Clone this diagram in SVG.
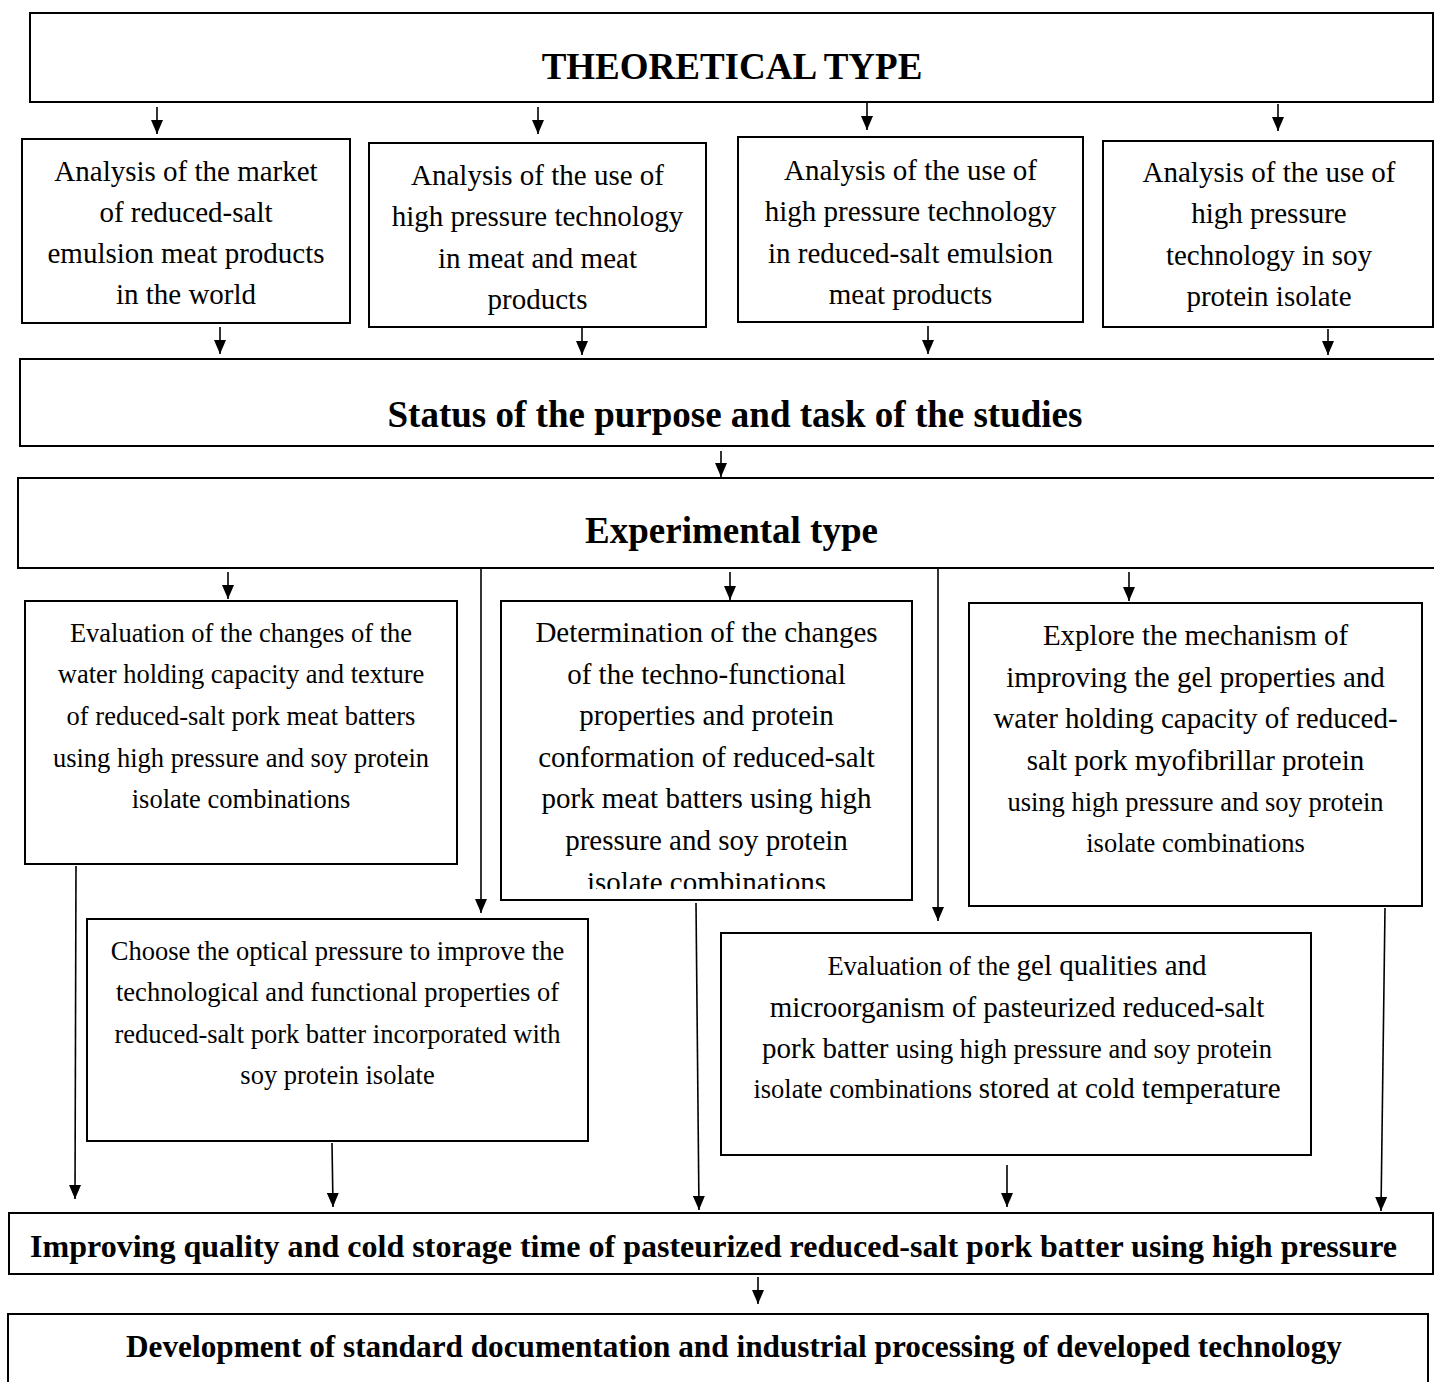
<svg xmlns="http://www.w3.org/2000/svg" width="1434" height="1382" viewBox="0 0 1434 1382">
<style>
.box{fill:#fff;stroke:#000;stroke-width:2}
.t{font-family:"Liberation Serif","Times New Roman",serif;fill:#000;text-anchor:middle}
.r29{font-size:29px}
.r26{font-size:26.5px}
.b37{font-size:37px;font-weight:bold}
.b32{font-size:32px;font-weight:bold}
.c{stroke:#000;stroke-width:1.6;fill:none;marker-end:url(#ah)}
</style>
<defs>
<marker id="ah" viewBox="0 0 14 12" refX="14" refY="6" markerWidth="14" markerHeight="12" markerUnits="userSpaceOnUse" orient="auto">
<path d="M0,0 L14,6 L0,12 z" fill="#000"/>
</marker>
<clipPath id="clipC"><rect x="501" y="601" width="411" height="288"/></clipPath>
</defs>
<rect width="1434" height="1382" fill="#fff"/>

<g id="theoretical">
<rect class="box" x="30" y="13" width="1403" height="89"/>
<text class="t b37" x="732" y="79">THEORETICAL TYPE</text>
</g>

<g id="market">
<rect class="box" x="22" y="139" width="328" height="184"/>
<text class="t r29"><tspan x="186" y="181">Analysis of the market</tspan><tspan x="186" y="222">of reduced-salt</tspan><tspan x="186" y="263">emulsion meat products</tspan><tspan x="186" y="304">in the world</tspan></text>
</g>

<g id="hp-meat">
<rect class="box" x="369" y="143" width="337" height="184"/>
<text class="t r29"><tspan x="537.5" y="185">Analysis of the use of</tspan><tspan x="537.5" y="226">high pressure technology</tspan><tspan x="537.5" y="268">in meat and meat</tspan><tspan x="537.5" y="309">products</tspan></text>
</g>

<g id="hp-reduced">
<rect class="box" x="738" y="137" width="345" height="185"/>
<text class="t r29"><tspan x="910.5" y="180">Analysis of the use of</tspan><tspan x="910.5" y="221">high pressure technology</tspan><tspan x="910.5" y="263">in reduced-salt emulsion</tspan><tspan x="910.5" y="304">meat products</tspan></text>
</g>

<g id="hp-soy">
<rect class="box" x="1103" y="141" width="330" height="186"/>
<text class="t r29"><tspan x="1269" y="182">Analysis of the use of</tspan><tspan x="1269" y="223">high pressure</tspan><tspan x="1269" y="265">technology in soy</tspan><tspan x="1269" y="306">protein isolate</tspan></text>
</g>

<g id="status">
<rect class="box" x="20" y="359" width="1425" height="87"/>
<text class="t b37" x="735" y="427">Status of the purpose and task of the studies</text>
</g>

<g id="experimental">
<rect class="box" x="18" y="478" width="1427" height="90"/>
<text class="t b37" x="731.5" y="543">Experimental type</text>
</g>

<g id="whc-texture">
<rect class="box" x="25" y="601" width="432" height="263"/>
<text class="t r26"><tspan x="241" y="642">Evaluation of the changes of the</tspan><tspan x="241" y="683">water holding capacity and texture</tspan><tspan x="241" y="725">of reduced-salt pork meat batters</tspan><tspan x="241" y="767">using high pressure and soy protein</tspan><tspan x="241" y="808">isolate combinations</tspan></text>
</g>

<g id="techno-functional">
<rect class="box" x="501" y="601" width="411" height="299"/>
<text class="t r29" clip-path="url(#clipC)"><tspan x="706.5" y="642">Determination of the changes</tspan><tspan x="706.5" y="684">of the techno-functional</tspan><tspan x="706.5" y="725">properties and protein</tspan><tspan x="706.5" y="767">conformation of reduced-salt</tspan><tspan x="706.5" y="808">pork meat batters using high</tspan><tspan x="706.5" y="850">pressure and soy protein</tspan><tspan x="706.5" y="892">isolate combinations</tspan></text>
</g>

<g id="mechanism">
<rect class="box" x="969" y="603" width="453" height="303"/>
<text class="t r29"><tspan x="1195.5" y="645">Explore the mechanism of</tspan><tspan x="1195.5" y="687">improving the gel properties and</tspan><tspan x="1195.5" y="728">water holding capacity of reduced-</tspan><tspan x="1195.5" y="770">salt pork myofibrillar protein</tspan></text>
<text class="t r26"><tspan x="1195.5" y="811">using high pressure and soy protein</tspan><tspan x="1195.5" y="852">isolate combinations</tspan></text>
</g>

<g id="optical-pressure">
<rect class="box" x="87" y="919" width="501" height="222"/>
<text class="t r26"><tspan x="337.5" y="960">Choose the optical pressure to improve the</tspan><tspan x="337.5" y="1001">technological and functional properties of</tspan><tspan x="337.5" y="1043">reduced-salt pork batter incorporated with</tspan><tspan x="337.5" y="1084">soy protein isolate</tspan></text>
</g>

<g id="gel-micro">
<rect class="box" x="721" y="933" width="590" height="222"/>
<text class="t" x="1017" y="975"><tspan class="r26">Evaluation of the </tspan><tspan class="r29">gel qualities and</tspan></text>
<text class="t r29" x="1017" y="1017">microorganism of pasteurized reduced-salt</text>
<text class="t" x="1017" y="1058"><tspan class="r29">pork batter </tspan><tspan class="r26">using high pressure and soy protein</tspan></text>
<text class="t" x="1017" y="1098"><tspan class="r26">isolate combinations </tspan><tspan class="r29">stored at cold temperature</tspan></text>
</g>

<g id="improving">
<rect class="box" x="9" y="1213" width="1424" height="61"/>
<text class="t b32" x="713.5" y="1257" textLength="1367" lengthAdjust="spacingAndGlyphs">Improving quality and cold storage time of pasteurized reduced-salt pork batter using high pressure</text>
</g>

<g id="development">
<rect class="box" x="8" y="1314" width="1420" height="80"/>
<text class="t b32" x="734" y="1357" textLength="1216" lengthAdjust="spacingAndGlyphs">Development of standard documentation and industrial processing of developed technology</text>
</g>

<g id="connectors">
<line class="c" x1="157" y1="107" x2="157" y2="134"/>
<line class="c" x1="538" y1="107" x2="538" y2="134"/>
<line class="c" x1="867" y1="103" x2="867" y2="130"/>
<line class="c" x1="1278" y1="104" x2="1278" y2="131"/>
<line class="c" x1="220" y1="327" x2="220" y2="354"/>
<line class="c" x1="582" y1="328" x2="582" y2="355"/>
<line class="c" x1="928" y1="326" x2="928" y2="354"/>
<line class="c" x1="1328" y1="329" x2="1328" y2="355"/>
<line class="c" x1="721" y1="451" x2="721" y2="477"/>
<line class="c" x1="228" y1="572" x2="228" y2="599"/>
<line class="c" x1="481" y1="569" x2="481" y2="913"/>
<line class="c" x1="730" y1="572" x2="730" y2="600"/>
<line class="c" x1="938" y1="569" x2="938" y2="921"/>
<line class="c" x1="1129" y1="572" x2="1129" y2="601"/>
<line class="c" x1="76" y1="866" x2="75" y2="1199"/>
<line class="c" x1="332" y1="1143" x2="333" y2="1207"/>
<line class="c" x1="696" y1="903" x2="699" y2="1210"/>
<line class="c" x1="1007" y1="1165" x2="1007" y2="1207"/>
<line class="c" x1="1385" y1="908" x2="1381" y2="1211"/>
<line class="c" x1="758" y1="1277" x2="758" y2="1304"/>
</g>
</svg>
